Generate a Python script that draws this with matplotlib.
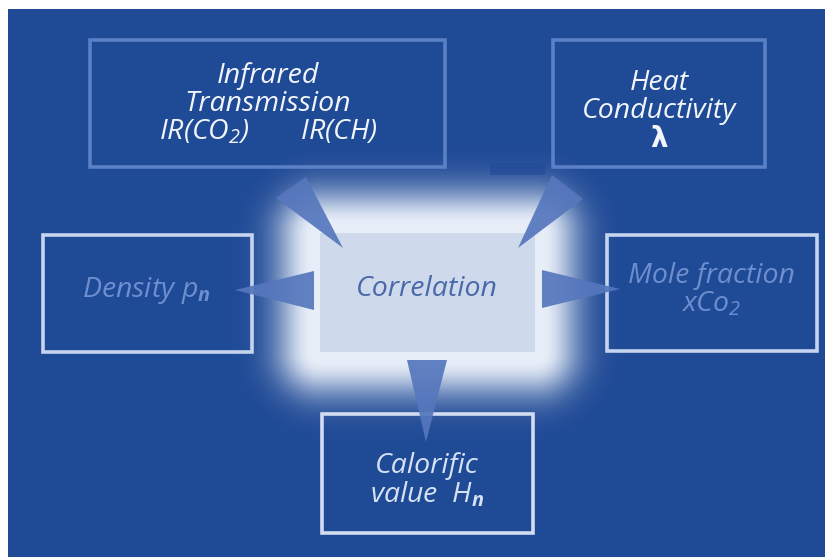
import numpy as np
import matplotlib
matplotlib.use("Agg")
import matplotlib.pyplot as plt
from matplotlib.patches import Rectangle, Polygon

plt.rcParams['mathtext.fontset'] = 'custom'
plt.rcParams['mathtext.rm'] = 'Open Sans:italic'
plt.rcParams['mathtext.it'] = 'Open Sans:italic:bold'
plt.rcParams['mathtext.bf'] = 'Open Sans:bold:italic'

# ---- content ----
labels = [
    "Infrared\nTransmission\nIR(CO$_2$)       IR(CH)",
    "Heat\nConductivity",
    "Density p$_n$",
    "Mole fraction\nxCo$_2$",
    "Calorific\nvalue  H$_n$",
]
center_label = "Correlation"
lambda_label = "λ"

# ---- layout (pixel coordinates: x0, y0, x1, y1) ----
box_rects = [(90, 40, 445, 167), (553, 40, 765, 167), (43, 235, 252, 352),
             (607, 235, 817, 351), (322, 414, 533, 533)]
text_pos = [(268, 104), (659, 97), (146, 291), (711, 290), (427, 481)]
edge_colors = ["#5a80c6", "#5a80c6", "#c6d5ef", "#c6d5ef", "#d2ddf1"]
text_colors = ["#f2f5fb", "#f2f5fb", "#6d8fcf", "#6d8fcf", "#d6e1f3"]
center_rect = (320, 233, 535, 352)
arrows = [
    [(276, 198), (306, 177), (343, 248)],
    [(552, 175), (583, 199), (518, 248)],
    [(314, 271), (314, 310), (235, 290)],
    [(542, 270), (542, 308), (620, 289)],
    [(407, 360), (447, 360), (426, 442)],
]

W, H = 825, 557
BG = "#1f4a96"
fig = plt.figure(figsize=(W / 100, H / 100), dpi=100)
fig.patch.set_facecolor("white")
ax = fig.add_axes([0, 0, 1, 1])
ax.set_xlim(0, W)
ax.set_ylim(H, 0)
ax.axis("off")

ax.add_patch(Rectangle((8, 9), W - 8, H - 9, facecolor=BG, edgecolor="none", zorder=0))

# glow around the correlation box
x0, y0, x1, y1 = center_rect
xx, yy = np.meshgrid(np.arange(W) + 0.5, np.arange(H) + 0.5)
dx = np.maximum(np.maximum(x0 - xx, xx - x1), 0)
dy = np.maximum(np.maximum(y0 - yy, yy - y1), 0)
d = np.sqrt(dx ** 2 + dy ** 2)
alpha = np.exp(-(np.maximum(d - 8, 0) / 36.0) ** 2)
img = np.zeros((H, W, 4))
img[..., 0] = 0.94
img[..., 1] = 0.96
img[..., 2] = 0.99
img[..., 3] = alpha * 0.97
img[:9, :, 3] = 0
img[:, :8, 3] = 0
ax.imshow(img, extent=(0, W, H, 0), zorder=1, interpolation="bilinear")

# small dark patch at top of glow
ax.add_patch(Rectangle((490, 163), 55, 12, facecolor=BG, edgecolor="none", zorder=1.5, alpha=0.6))

ax.add_patch(Rectangle((x0, y0), x1 - x0, y1 - y0, facecolor="#cfd9ec", edgecolor="none", zorder=2))

for tri in arrows:
    ax.add_patch(Polygon(tri, closed=True, facecolor="#5677bd", edgecolor="none", alpha=0.92, zorder=4))

for (bx0, by0, bx1, by1), ec in zip(box_rects, edge_colors):
    ax.add_patch(Rectangle((bx0, by0), bx1 - bx0, by1 - by0, facecolor="none",
                           edgecolor=ec, linewidth=2.6, zorder=3))

font = dict(family="Open Sans", style="italic", fontsize=20.5)
for lab, (tx, ty), tc in zip(labels, text_pos, text_colors):
    ax.text(tx, ty, lab, ha="center", va="center", color=tc, linespacing=0.98,
            zorder=5, **font)

ax.text(659, 139, lambda_label, ha="center", va="center", color="#f2f5fb",
        family="DejaVu Sans", fontweight="bold", fontsize=20, zorder=5)
ax.text(427, 289, center_label, ha="center", va="center", color="#4a69aa", zorder=5, **font)

fig.savefig("out.png", dpi=100, facecolor=fig.get_facecolor())
